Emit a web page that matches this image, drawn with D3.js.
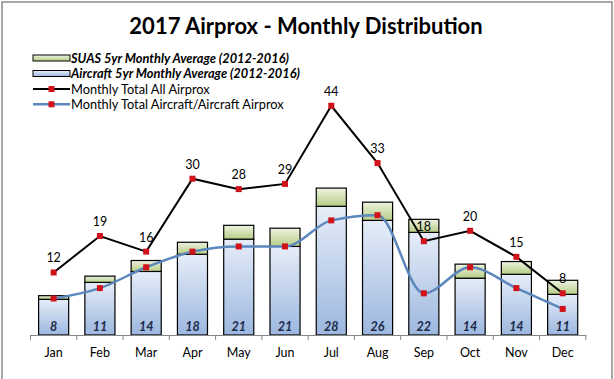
<!DOCTYPE html>
<html><head><meta charset="utf-8">
<script src="https://cdnjs.cloudflare.com/ajax/libs/d3/7.8.5/d3.min.js"></script>
<style>
body{margin:0;background:#fff;}
svg{display:block;font-family:Lato,"Noto Sans",sans-serif;}
</style></head>
<body>
<svg id="c" width="614" height="379"></svg>
<script>
const months = ["Jan","Feb","Mar","Apr","May","Jun","Jul","Aug","Sep","Oct","Nov","Dec"];
const aircraftAvg = [6.85,10.1,12.2,15.5,18.4,17.0,24.7,22.0,19.7,10.9,11.65,7.8];
const suasAvg = [0.7,1.2,2.1,2.3,2.65,3.5,3.5,3.5,2.5,2.7,2.45,2.7];
const totalAvgLabels = [8,11,14,18,21,21,28,26,22,14,14,11];
const totalAll = [12,19,16,30,28,29,44,33,18,20,15,8];
const totalAirAir = [7,9,13,16,17,17,22,23,8,13,9,5];
const legendLabels = ["SUAS 5yr Monthly Average (2012-2016)","Aircraft 5yr Monthly Average (2012-2016)","Monthly Total All Airprox","Monthly Total Aircraft/Aircraft Airprox"];
const title = "2017 Airprox - Monthly Distribution";

const svg = d3.select("#c");
const defs = svg.append("defs");
function grad(id, c1, c2){
  const g = defs.append("linearGradient").attr("id",id).attr("x1",0).attr("y1",0).attr("x2",0).attr("y2",1);
  g.append("stop").attr("offset","0%").attr("stop-color",c1);
  g.append("stop").attr("offset","100%").attr("stop-color",c2);
}
grad("gAir","#e6edf8","#9cb7df");
grad("gSuas","#eef3e1","#b6cd85");

// border
svg.append("rect").attr("x",2).attr("y",2).attr("width",610).attr("height",390)
  .attr("fill","none").attr("stroke","#8a8a8a").attr("stroke-width",1.5);

svg.append("text").attr("x",306).attr("y",34).attr("text-anchor","middle")
  .attr("font-size",22).attr("font-weight","bold").attr("fill","#000").text(title);

const x = d3.scaleBand().domain(months).range([30.5,585.8]).paddingInner(0.35).paddingOuter(0.175);
const y = d3.scaleLinear().domain([0,50]).range([335,74.5]);

// bars
const g = svg.append("g");
months.forEach((m,i)=>{
  g.append("rect").attr("x",x(m)).attr("width",x.bandwidth())
    .attr("y",y(aircraftAvg[i])).attr("height",y(0)-y(aircraftAvg[i]))
    .attr("fill","url(#gAir)").attr("stroke","#000").attr("stroke-width",1.2);
  g.append("rect").attr("x",x(m)).attr("width",x.bandwidth())
    .attr("y",y(aircraftAvg[i]+suasAvg[i])).attr("height",y(aircraftAvg[i])-y(aircraftAvg[i]+suasAvg[i]))
    .attr("fill","url(#gSuas)").attr("stroke","#000").attr("stroke-width",1.2);
  g.append("text").attr("x",x(m)+x.bandwidth()/2).attr("y",331).attr("text-anchor","middle")
    .attr("font-size",12.5).attr("font-weight","bold").attr("font-style","italic").attr("fill","#1b2a4a")
    .text(totalAvgLabels[i]);
});

// axis
const ax = svg.append("g").attr("transform","translate(0,335)")
  .call(d3.axisBottom(x).tickSize(0).tickSizeOuter(0));
ax.select(".domain").attr("stroke","#868686");
ax.selectAll("text").attr("font-size",12.5).attr("fill","#000").attr("font-family","Lato").attr("dy",0).attr("y",22);
// tick marks between categories
const edges = d3.range(months.length+1).map(i=>x.range()[0]+i*x.step());
svg.append("g").selectAll("line").data(edges).join("line")
  .attr("x1",d=>d).attr("x2",d=>d).attr("y1",335).attr("y2",340).attr("stroke","#868686");

const cx = m=>x(m)+x.bandwidth()/2;
// blue line
const blueLine = d3.line().x((d,i)=>cx(months[i])).y(d=>y(d)).curve(d3.curveMonotoneX);
svg.append("path").attr("d",blueLine(totalAirAir)).attr("fill","none").attr("stroke","#5b87bd").attr("stroke-width",2.5);
// black line
const blackLine = d3.line().x((d,i)=>cx(months[i])).y(d=>y(d));
svg.append("path").attr("d",blackLine(totalAll)).attr("fill","none").attr("stroke","#000").attr("stroke-width",2);

function markers(arr){
  svg.append("g").selectAll("rect").data(arr).join("rect")
    .attr("x",(d,i)=>cx(months[i])-3).attr("y",d=>y(d)-3).attr("width",6).attr("height",6).attr("fill","#d0121b");
}
markers(totalAirAir);
markers(totalAll);

svg.append("g").selectAll("text").data(totalAll).join("text")
  .attr("x",(d,i)=>cx(months[i])).attr("y",d=>y(d)-10).attr("text-anchor","middle")
  .attr("font-size",12.5).attr("fill","#000").text(d=>d);

// legend
const lg = svg.append("g");
const rows = [58,73.5,89,104.3];
lg.append("rect").attr("x",33).attr("y",rows[0]-3).attr("width",37).attr("height",6).attr("fill","url(#gSuas)").attr("stroke","#000").attr("stroke-width",1);
lg.append("rect").attr("x",33).attr("y",rows[1]-3).attr("width",37).attr("height",6).attr("fill","url(#gAir)").attr("stroke","#000").attr("stroke-width",1);
lg.append("line").attr("x1",33).attr("x2",70).attr("y1",rows[2]).attr("y2",rows[2]).attr("stroke","#000").attr("stroke-width",2);
lg.append("rect").attr("x",48.5).attr("y",rows[2]-3).attr("width",6).attr("height",6).attr("fill","#d0121b");
lg.append("line").attr("x1",33).attr("x2",70).attr("y1",rows[3]).attr("y2",rows[3]).attr("stroke","#5b87bd").attr("stroke-width",2.5);
lg.append("rect").attr("x",48.5).attr("y",rows[3]-3).attr("width",6).attr("height",6).attr("fill","#d0121b");
legendLabels.forEach((t,i)=>{
  lg.append("text").attr("x",71).attr("y",rows[i]+4.5).attr("font-size",12.8)
    .attr("font-weight",i<2?"bold":"normal").attr("font-style",i<2?"italic":"normal").attr("fill","#000").text(t);
});
</script>
</body></html>
